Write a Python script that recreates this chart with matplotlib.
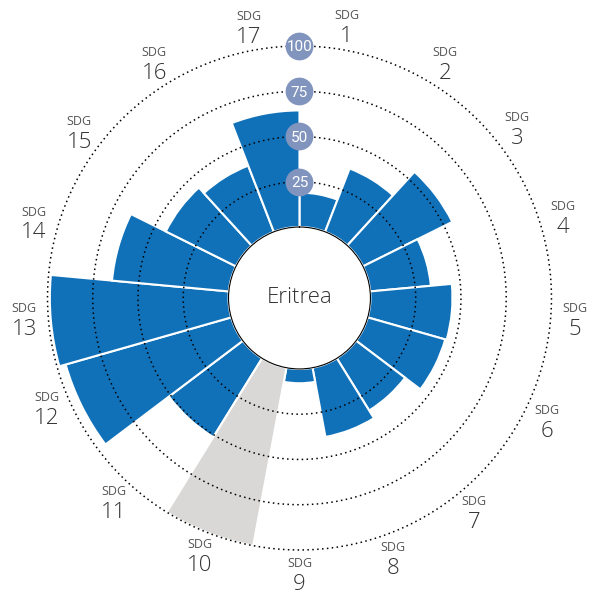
import numpy as np
import matplotlib
matplotlib.use('Agg')
import matplotlib.pyplot as plt

# SDG scores for Eritrea (nan = no data, drawn as grey full bar)
goals = ['1', '2', '3', '4', '5', '6', '7', '8', '9', '10', '11', '12', '13', '14', '15', '16', '17']
scores = [19.0, 37.5, 55.1, 33.7, 45.3, 44.5, 33.9, 38.9, 7.9, np.nan, 51.2, 95.1, 98.7, 64.8, 43.3, 39.2, 64.4]
rings = [25, 50, 75, 100]
country = 'Eritrea'

blue = '#1071b9'
grey = '#d9d8d6'
bubble = '#8194be'

# small angle nudges (degrees) for a couple of outer labels, as in the original
label_nudge = {'7': 3.2, '12': 2.9, '1': -0.8, '4': -1.2, '3': -0.9, '5': -0.9, '8': 1.3, '13': 1.0}

plt.rcParams['font.family'] = ['Open Sans', 'DejaVu Sans']

fig = plt.figure(figsize=(5.98, 5.94), dpi=100)
ax = fig.add_axes([0.0794, 0.0741, 0.8428, 0.8485], projection='polar')
ax.set_theta_zero_location('N')
ax.set_theta_direction(-1)
ax.set_ylim(0, 100)
ax.set_rorigin(-39.2)

n = len(goals)
width = 2 * np.pi / n
theta = np.arange(n) * width + width / 2

vals = np.array(scores)
missing = np.isnan(vals)
ax.bar(theta[~missing], vals[~missing], width=width, color=blue,
       edgecolor='white', linewidth=1.5, zorder=2)
ax.bar(theta[missing], 100, width=width, color=grey,
       edgecolor='white', linewidth=1.5, zorder=2)

# dotted reference rings
t = np.linspace(0, 2 * np.pi, 400)
for r in rings:
    ax.plot(t, np.full_like(t, r), color='black', lw=1.1, ls=(0, (1, 2.2)),
            zorder=3, clip_on=False)
    ax.scatter([0], [r], s=400, color=bubble, zorder=4, clip_on=False, linewidths=0)
    ax.text(0, r, str(r), ha='center', va='center_baseline', color='white', fontsize=11,
            family=['Liberation Sans Narrow', 'Roboto', 'DejaVu Sans'], zorder=5)

# goal labels around the outside
for th, g in zip(theta, goals):
    th = th + np.deg2rad(label_nudge.get(g, 0))
    ax.annotate('SDG', xy=(th, 113.3), xytext=(0, 7.5), textcoords='offset points',
                ha='center', va='center', fontsize=9, color='#555555',
                annotation_clip=False)
    ax.annotate(g, xy=(th, 113.3), xytext=(0, -7.5), textcoords='offset points',
                ha='center', va='center', fontsize=16, color='#333333',
                fontweight='light', annotation_clip=False)

ax.text(0, -39.2, country, ha='center', va='center', fontsize=16,
        color='#333333', fontweight='light')

ax.grid(False)
ax.set_xticks([])
ax.set_yticks([])
for s in ax.spines.values():
    s.set_visible(False)
ax.patch.set_alpha(0)

plt.savefig('out.png', dpi=100)
plt.close()
